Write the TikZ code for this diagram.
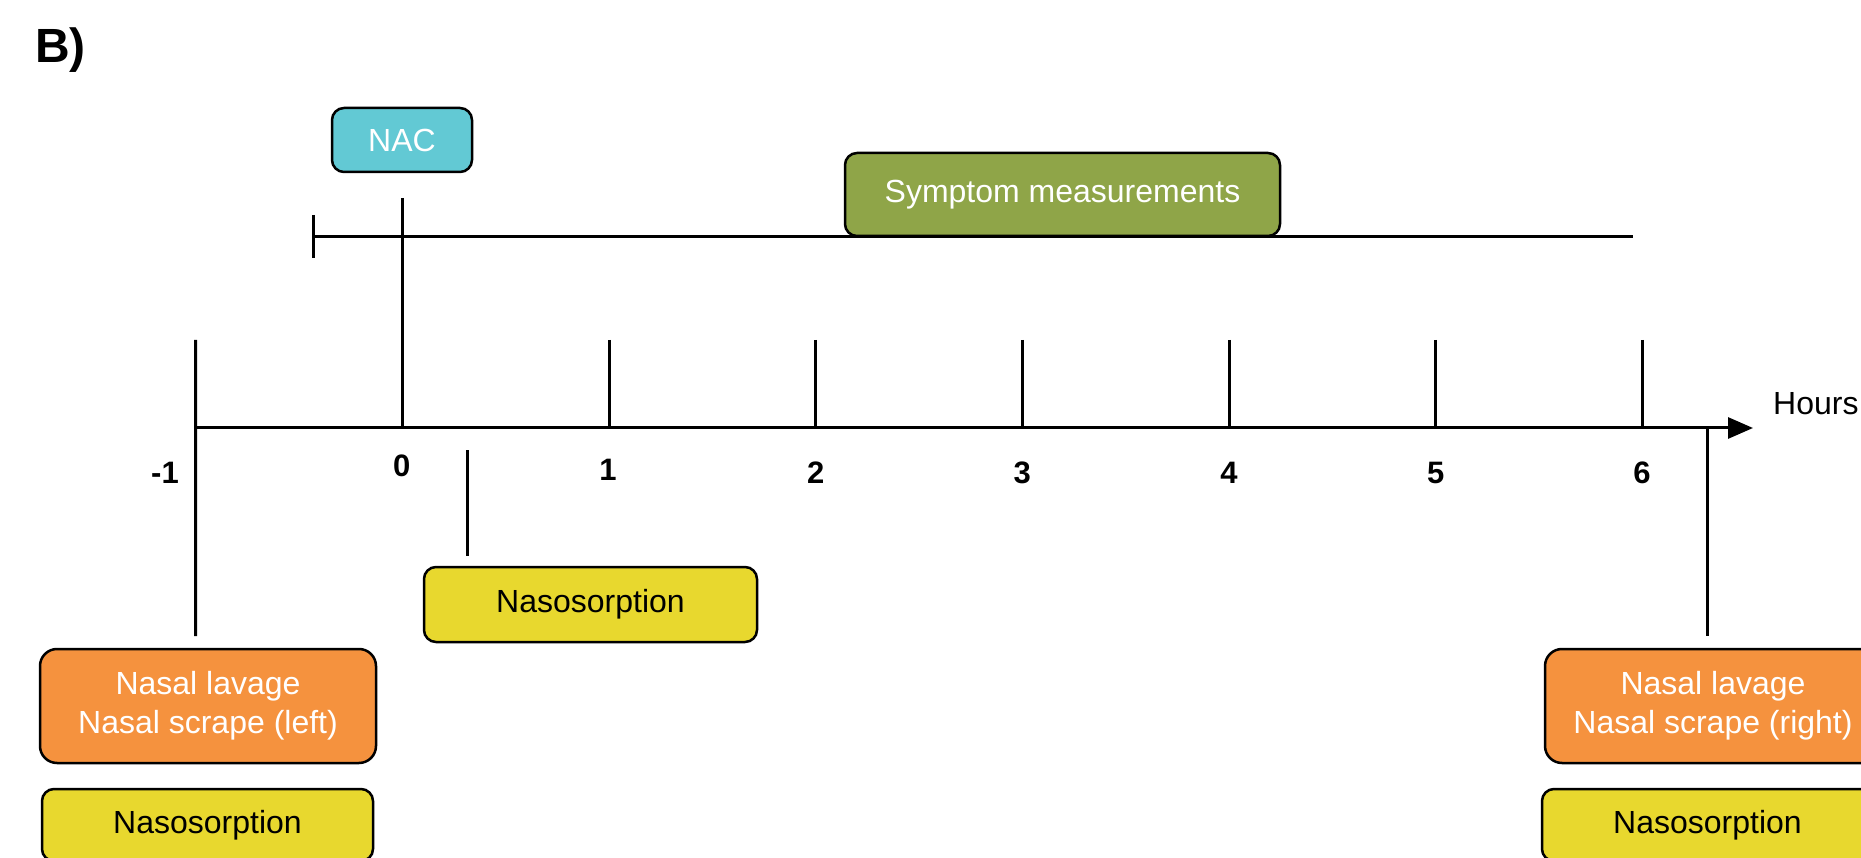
\documentclass[tikz,border=0pt]{standalone}
\usepackage{fontspec}
\setmainfont{Liberation Sans}
\usetikzlibrary{arrows.meta}
\definecolor{naccyan}{HTML}{62C9D4}
\definecolor{symgreen}{HTML}{8FA548}
\definecolor{lavorange}{HTML}{F5923E}
\definecolor{sorbyellow}{HTML}{E8D82E}

\begin{document}
\begin{tikzpicture}[x=1pt,y=-1pt,
  box/.style={draw=black, line width=2.5pt, rounded corners=12pt, inner sep=0pt,
    align=center, font=\fontsize{32}{39}\selectfont},
  whitebox/.style={box, text=white},
  blackbox/.style={box, text=black},
  tl/.style={line width=3pt},
  ticklabel/.style={font=\bfseries\fontsize{31}{37}\selectfont, anchor=base, inner sep=0pt},
  axislabel/.style={font=\fontsize{32}{38}\selectfont, anchor=base west, inner sep=0pt}]
\useasboundingbox (0,0) rectangle (1861,858);
\clip (0,0) rectangle (1861,858);

% panel letter
\node[font=\bfseries\fontsize{48}{56}\selectfont, anchor=base west, inner sep=0pt] (panel) at (35,63) {B)};

% hour positions on the time axis
\foreach \k in {-1,...,6} {
  \coordinate (h\k) at ({402.3+206.7*\k},428);
  \coordinate (t\k) at ({402.3+206.7*\k},340);
}

% symptom measurement period
\coordinate (symstart) at (313,237);
\coordinate (symend) at (1633,237);
\coordinate (capup) at (313,215);
\coordinate (capdown) at (313,258);
\draw[tl] (symstart) -- (symend);
\draw[tl] (capup) -- (capdown);

% time axis with ticks
\coordinate (axisend) at (1753,428);
\draw[tl, -{Triangle[length=25pt,width=21pt]}] (h-1) -- (axisend);
\foreach \k in {1,...,6} { \draw[tl] (t\k) -- (h\k); }

% challenge marker at hour 0
\coordinate (nacline) at (402.3,198);
\draw[tl] (nacline) -- (h0);

% sampling markers
\coordinate (leftdrop) at (195.7,636);
\draw[tl] (t-1) -- (leftdrop);
\coordinate (midtop) at (467.7,450);
\coordinate (midbot) at (467.7,556);
\draw[tl] (midtop) -- (midbot);
\coordinate (righttop) at (1707.7,428);
\coordinate (rightbot) at (1707.7,636);
\draw[tl] (righttop) -- (rightbot);

% tick labels
\node[ticklabel] (lm1) at (165,483.3) {-1};
\node[ticklabel] (l0) at (401.7,476) {0};
\node[ticklabel] (l1) at (608,480.7) {1};
\node[ticklabel] (l2) at (815.7,483.3) {2};
\node[ticklabel] (l3) at (1022.3,483.3) {3};
\node[ticklabel] (l4) at (1229,483.3) {4};
\node[ticklabel] (l5) at (1435.7,483.3) {5};
\node[ticklabel] (l6) at (1642,483.3) {6};
\node[axislabel] (hours) at (1773,415) {Hours};

% event boxes
\node[whitebox, fill=naccyan, minimum width=140pt, minimum height=64pt] (nac) at (402,140) {NAC};
\node[whitebox, fill=symgreen, minimum width=435pt, minimum height=83pt] (sym) at (1062.5,194.5) {Symptom measurements};
\node[blackbox, fill=sorbyellow, minimum width=333pt, minimum height=75pt] (sorbmid) at (590.5,604.5) {Nasosorption};
\node[whitebox, fill=lavorange, rounded corners=17pt, minimum width=336pt, minimum height=114pt] (lavleft) at (208,706) {Nasal lavage\\Nasal scrape (left)};
\node[blackbox, fill=sorbyellow, minimum width=331pt, minimum height=72pt] (sorbleft) at (207.5,825) {Nasosorption};
\node[whitebox, fill=lavorange, rounded corners=17pt, minimum width=336pt, minimum height=114pt] (lavright) at (1713,706) {Nasal lavage\\Nasal scrape (right)};
\node[blackbox, fill=sorbyellow, minimum width=331pt, minimum height=72pt] (sorbright) at (1707.5,825) {Nasosorption};
\end{tikzpicture}
\end{document}
